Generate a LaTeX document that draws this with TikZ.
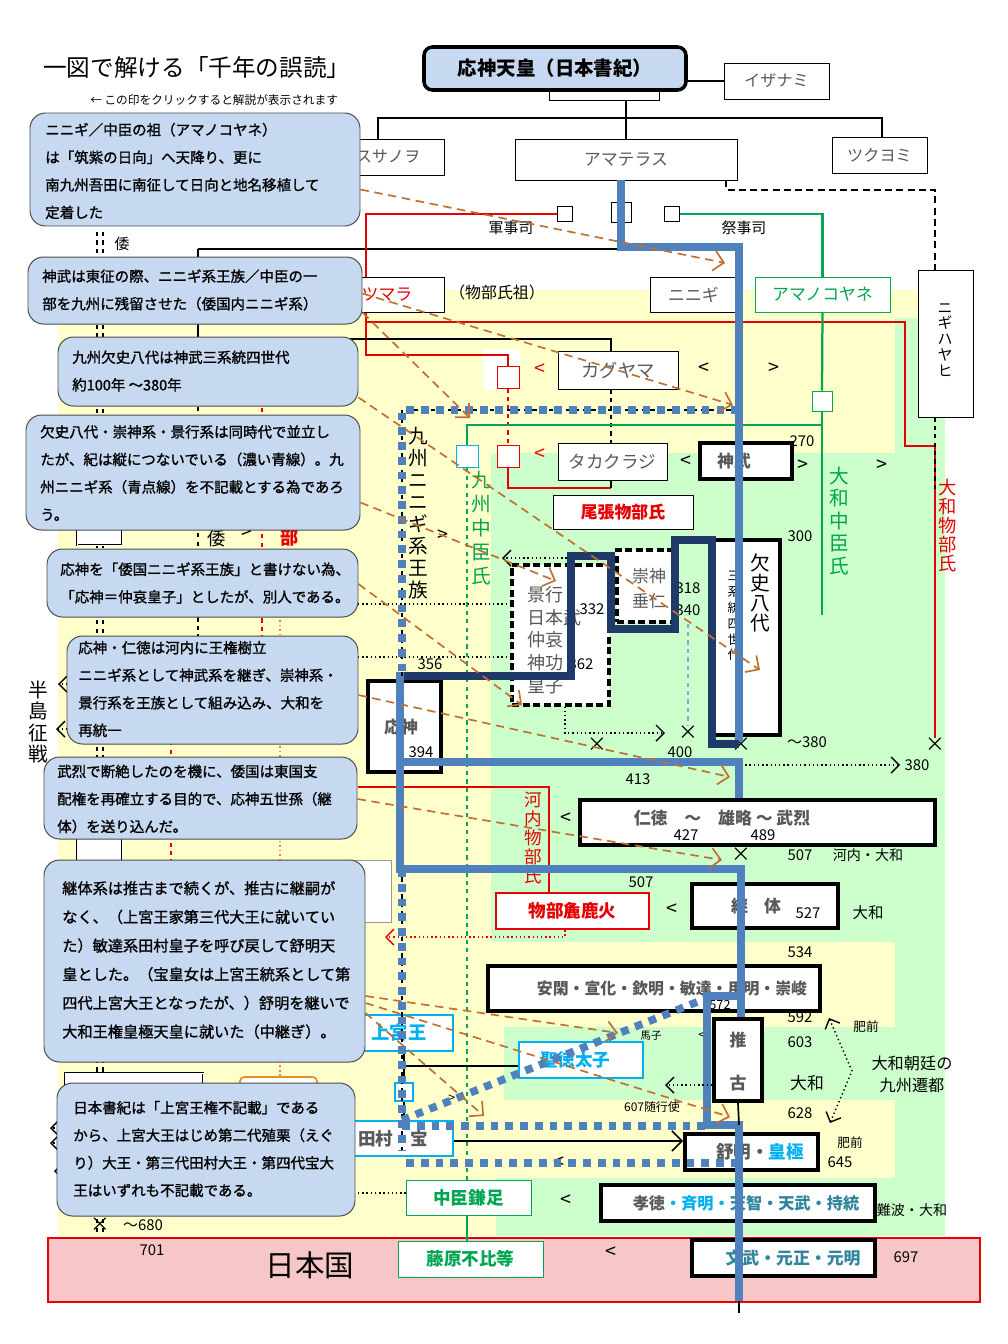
\documentclass[tikz,border=0pt]{standalone}
\usepackage{fontspec}
\setmainfont{Noto Sans CJK JP}
\newfontfamily\callfont[FakeBold=1.2]{Noto Sans CJK JP}
\usetikzlibrary{arrows.meta,fit}
\definecolor{callfill}{RGB}{198,217,241}
\definecolor{ylwbg}{RGB}{255,255,204}
\definecolor{grnbg}{RGB}{204,255,204}
\definecolor{pinkbg}{RGB}{247,199,199}
\definecolor{bluec}{RGB}{79,129,189}
\definecolor{navyc}{RGB}{31,58,104}
\definecolor{redc}{RGB}{230,0,0}
\definecolor{grnc}{RGB}{0,166,81}
\definecolor{cyanc}{RGB}{0,176,240}
\definecolor{tealc}{RGB}{49,133,156}
\definecolor{brnc}{RGB}{192,112,48}
\definecolor{txtgray}{RGB}{89,89,89}
\definecolor{orgc}{RGB}{230,140,40}
\newcommand{\fsz}[2]{\fontsize{#1pt}{#2pt}\selectfont}
\pgfdeclarelayer{bg}
\pgfdeclarelayer{wires}
\pgfdeclarelayer{over}
\pgfdeclarelayer{notes}
\pgfsetlayers{bg,wires,main,over,notes}
\tikzset{
  plain/.style={draw=black, fill=white, inner sep=0pt},
  heavy/.style={draw=black, line width=2.6pt, fill=white, inner sep=0pt},
  dashbox/.style={draw=black, line width=2.2pt, dash pattern=on 5pt off 2.5pt, fill=white, inner sep=0pt},
  topbox/.style={draw=black, line width=2.5pt, fill=callfill, rounded corners=6pt, inner sep=0pt},
  callout/.style={draw=black!70, line width=0.7pt, fill=callfill, rounded corners=11pt, inner sep=0pt},
  calltext/.style={anchor=west, align=left, inner sep=0pt, font=\callfont\fsz{10.3}{19.6}},
  sq/.style={draw=black, fill=white, minimum size=0.375cm, inner sep=0pt},
  tx/.style={inner sep=0pt, text=txtgray, font=\fsz{12}{14}},
  num/.style={inner sep=0pt, font=\fsz{10.6}{12}},
  bold/.style={inner sep=0pt, text=txtgray, font=\bfseries\fsz{12}{14}},
  vert/.style={inner sep=0pt, align=center},
  lt/.style={inner sep=0pt, font=\fsz{14}{16}},
  famline/.style={line width=1.8pt},
  redl/.style={draw=redc, line width=1.8pt},
  grnl/.style={draw=grnc, line width=1.6pt},
  bluel/.style={draw=bluec, line width=5pt},
  navyl/.style={draw=navyc, line width=5pt},
  bluedot/.style={draw=bluec, line width=5.5pt, dash pattern=on 5.5pt off 5pt},
  dotarr/.style={dotted, line width=1pt, -{Straight Barb[length=2mm]}},
  brnarr/.style={draw=brnc, line width=1.2pt, dash pattern=on 6pt off 4pt, -{Straight Barb[length=2.5mm]}},
}
\begin{document}
\begin{tikzpicture}[x=0.025cm,y=-0.025cm]
\useasboundingbox (0,0) rectangle (1008,1344);
% 背景
\begin{pgfonlayer}{bg}
\fill[ylwbg] (58,290) rectangle (945,1236);
\fill[grnbg] (895,318) rectangle (945,1236);
\fill[grnbg] (491,453) rectangle (945,942);
\fill[grnbg] (504,1027) rectangle (945,1100);
\fill[grnbg] (496,1178) rectangle (945,1236);
\fill[white] (483,349) rectangle (520,390);
\draw[redc, line width=1.5pt, fill=pinkbg] (48,1238) rectangle (980,1302);
\end{pgfonlayer}

% タイトル
\node[anchor=west, inner sep=0pt, font=\fsz{16.8}{18}] (title) at (43,68) {一図で解ける「千年の誤読」};
\node[anchor=west, inner sep=0pt, font=\fsz{8.3}{9}] (hint) at (90,100) {← この印をクリックすると解説が表示されます};

% 神々
\node[plain, fit={(549,90)(659,100)}] (stub) {};
\node[topbox, fit={(424,47)(686,90)}] (ojin) {};
\node[inner sep=0pt, font=\bfseries\fsz{13.8}{15}] (ojint) at (ojin) {応神天皇（日本書紀）};
\node[plain, fit={(724,63)(829,99)}] (izanami) {};
\node[tx, font=\fsz{11.5}{13}] (izanamit) at (izanami) {イザナミ};
\node[plain, fit={(332,139)(444,175)}] (susanoo) {};
\node[tx, font=\fsz{11.5}{13}] (susanoot) at (susanoo) {スサノヲ};
\node[plain, fit={(515,139)(737,180)}] (amaterasu) {};
\node[tx] (amaterasut) at (amaterasu) {アマテラス};
\node[plain, fit={(832,137)(927,173)}] (tsukuyomi) {};
\node[tx, font=\fsz{11.5}{13}] (tsukuyomit) at (tsukuyomi) {ツクヨミ};
\node[plain, fit={(918,270)(973,417)}] (nigihayahi) {};
\node[vert, font=\fsz{10.6}{11.3}] (nigihayahit) at (945,340) {ニ\\ギ\\ハ\\ヤ\\ヒ};
\node[sq] (sqa) at (565,214) {};
\node[sq, minimum size=0.5cm] (sqb) at (621,212) {};
\node[sq] (sqc) at (672,214) {};
\node[num] (gunji) at (511,228) {軍事司};
\node[num] (saiji) at (744,228) {祭事司};
\node[num] (wa1) at (122,244) {倭};
\coordinate (fork) at (626,118);
\coordinate (sl) at (378,118);
\coordinate (tr) at (882,118);
\coordinate (db) at (726,190);
\coordinate (dc) at (935,190);

% 九州
\node[plain, fit={(330,277)(444,312)}] (tsumara) {};
\node[tx, text=redc] (tsumarat) at (tsumara) {ツマラ};
\node[num, font=\fsz{11.3}{13}] (sosen) at (497,292) {（物部氏祖）};
\node[plain, fit={(650,277)(737,312)}] (ninigi) {};
\node[tx] (ninigit) at (ninigi) {ニニギ};
\node[plain, draw=grnc, fit={(755,277)(890,312)}] (amanokoyane) {};
\node[tx, text=grnc] (amanokoyanet) at (amanokoyane) {アマノコヤネ};
\node[sq, draw=redc, minimum size=0.55cm] (rsq1) at (508,377) {};
\node[sq, draw=redc, minimum size=0.55cm] (rsq2) at (508,456) {};
\node[sq, draw=cyanc, minimum size=0.55cm] (csq) at (467,456) {};
\node[sq, draw=grnc, minimum size=0.5cm] (gsq) at (822,401) {};
\node[lt, text=redc] (rlt1) at (540,370) {<};
\node[lt, text=redc] (rlt2) at (540,455) {<};
\node[plain, fit={(558,351)(678,389)}] (kaguyama) {};
\node[tx, font=\fsz{13}{15}] (kaguyamat) at (kaguyama) {カグヤマ};
\node[lt] (klt) at (704,369) {<};
\node[lt] (kgt) at (774,369) {>};
\node[plain, fit={(558,443)(667,480)}] (takakuraji) {};
\node[tx, font=\fsz{12.5}{15}] (takakurajit) at (takakuraji) {タカクラジ};
\node[lt] (jlt) at (686,462) {<};
\node[heavy, fit={(700,443)(792,479)}] (jinmu) {};
\node[bold] (jinmut) at (734,461) {神武};
\node[lt] (jgt1) at (803,466) {>};
\node[lt] (jgt2) at (882,466) {>};
\node[num] (n270) at (802,441) {270};
\node[num] (n300) at (800,536) {300};
\node[plain, fit={(553,495)(693,529)}] (owari) {};
\node[inner sep=0pt, text=redc, font=\bfseries\fsz{12}{14}] (owarit) at (owari) {尾張物部氏};
\node[vert, font=\fsz{14}{15.6}] (kyuninigi) at (418,513) {九\\州\\ニ\\ニ\\ギ\\系\\王\\族};
\node[lt] (kgt3) at (443,536) {>};
\node[vert, text=grnc, font=\fsz{14}{17}] (kyunakatomi) at (481,528) {九\\州\\中\\臣\\氏};
\node[vert, text=grnc, font=\fsz{14}{16}] (yanakatomi) at (839,521) {大\\和\\中\\臣\\氏};
\node[vert, text=redc, font=\fsz{13}{13.5}] (yamono) at (948,526) {大\\和\\物\\部\\氏};

% 崇神・景行・欠史八代
\node[dashbox, fit={(512,565)(609,705)}] (keiko) {};
\node[anchor=west, align=left, inner sep=0pt, text=txtgray, font=\fsz{12.8}{16.2}] (keikot) at (527,640) {景行\\日本武\\仲哀\\神功\\皇子};
\node[num] (n332) at (592,609) {332};
\node[num] (n362) at (581,664) {362};
\node[dashbox, fit={(617,550)(673,622)}] (sujin) {};
\node[align=center, inner sep=0pt, text=txtgray, font=\fsz{12}{17.7}] (sujint) at (649,589) {崇神\\垂仁};
\node[num] (n318) at (688,588) {318};
\node[num] (n340) at (688,610) {340};
\node[heavy, line width=3pt, fit={(712,540)(780,735)}] (kesshi) {};
\node[vert, font=\fsz{14}{14.2}] (kesshit) at (760,593) {欠\\史\\八\\代};
\node[vert, font=\fsz{9}{11.3}] (kesshis) at (734,616) {三\\系\\統\\四\\世\\代};
\node[num] (n356) at (430,664) {356};
\node[heavy, fit={(368,681)(441,772)}] (ojinb) {};
\node[bold] (ojinbt) at (401,727) {応神};
\node[num] (n394) at (421,752) {394};
\node[lt] (xa) at (597,745) {×};
\node[lt] (xb) at (688,733) {×};
\node[lt] (xk) at (741,745) {×};
\node[lt] (xm4) at (935,745) {×};
\node[num] (n400) at (680,752) {400};
\node[num] (n380a) at (807,742) {〜380};
\node[num] (n380) at (917,765) {380};
\node[num] (n413) at (638,779) {413};

% 河内
\node[heavy, fit={(580,800)(935,845)}] (nintoku) {};
\node[bold] (nintokut) at (722,818) {仁徳\quad 〜\quad 雄略 〜 武烈};
\node[num] (n427) at (686,835) {427};
\node[num] (n489) at (763,835) {489};
\node[lt] (nlt) at (566,819) {<};
\node[vert, text=redc, font=\fsz{12.5}{13.5}] (kawamono) at (533,838) {河\\内\\物\\部\\氏};
\node[lt] (xk2) at (741,855) {×};
\node[num] (n507a) at (800,855) {507};
\node[num, font=\fsz{10}{12}] (kawayama) at (868,855) {河内・大和};
\node[num] (n507b) at (641,882) {507};
\node[plain, draw=redc, line width=1.6pt, fit={(496,893)(649,929)}] (arakabi) {};
\node[inner sep=0pt, text=redc, font=\bfseries\fsz{12.5}{14}] (arakabit) at (arakabi) {物部麁鹿火};
\node[lt] (klt2) at (672,910) {<};
\node[heavy, fit={(692,884)(838,928)}] (keitai) {};
\node[bold] (keitait) at (756,906) {継\hspace{0.4cm}体};
\node[num] (n527) at (808,913) {527};
\node[num, font=\fsz{11}{12}] (yamato1) at (868,913) {大和};
\node[num] (n534) at (800,952) {534};
\node[heavy, fit={(488,966)(820,1011)}] (ankan) {};
\node[bold, font=\bfseries\fsz{11.3}{13}] (ankant) at (672,988) {安閑・宣化・欽明・敏達・用明・崇峻};
\node[num, font=\fsz{9}{10}] (n572) at (720,1005) {572};

% 推古〜
\node[num] (n592) at (800,1017) {592};
\node[num] (n603) at (800,1042) {603};
\node[num, font=\fsz{12}{14}] (yamato2) at (807,1083) {大和};
\node[num] (n628) at (800,1113) {628};
\node[num] (n645) at (840,1162) {645};
\node[num, font=\fsz{9}{10}] (hizen1) at (866,1027) {肥前};
\node[num, font=\fsz{9}{10}] (hizen2) at (850,1143) {肥前};
\node[align=center, inner sep=0pt, font=\fsz{11.5}{15.5}] (sento) at (912,1074) {大和朝廷の\\九州遷都};
\node[plain, draw=cyanc, line width=2pt, fit={(345,1015)(453,1051)}] (jyogu) {};
\node[inner sep=0pt, text=cyanc, font=\bfseries\fsz{13}{15}] (jyogut) at (jyogu) {上宮王};
\node[plain, draw=cyanc, line width=2pt, fit={(519,1042)(643,1078)}] (shotoku) {};
\node[inner sep=0pt, text=cyanc, font=\bfseries\fsz{12.5}{15}] (shotokut) at ([xshift=-4pt]shotoku.center) {聖徳太子};
\node[sq, draw=cyanc, line width=2pt, minimum size=0.45cm] (csq2) at (404,1092) {};
\node[num, font=\fsz{7.5}{9}] (umako) at (651,1036) {馬子};
\node[num, font=\fsz{9}{10}] (ult) at (702,1036) {<};
\node[num, font=\fsz{8.5}{10}] (zuiko) at (652,1107) {607随行使};
\node[num, font=\fsz{9}{10}] (tgt) at (452,1099) {>};
\node[plain, draw=cyanc, line width=2pt, fit={(345,1121)(453,1156)}] (tamura) {};
\node[bold, font=\bfseries\fsz{12.5}{15}] (tamurat) at ([xshift=-4pt]tamura.center) {田村・宝};
\node[heavy, fit={(685,1134)(818,1170)}] (jomei) {};
\node[bold, font=\bfseries\fsz{12.5}{14}] (jomeit) at (760,1152) {舒明・\textcolor{cyanc}{皇極}};
\node[lt] (tlt) at (559,1163) {<};
\node[plain, draw=grnc, fit={(406,1180)(531,1215)}] (kamatari) {};
\node[inner sep=0pt, text=grnc, font=\bfseries\fsz{12.5}{15}] (kamatarit) at (kamatari) {中臣鎌足};
\node[lt] (klt3) at (566,1201) {<};
\node[heavy, fit={(601,1185)(875,1221)}] (kotoku) {};
\node[bold, font=\bfseries\fsz{11.5}{13}] (kotokut) at (746,1203) {孝徳\textcolor{cyanc}{・斉明・}\textcolor{tealc}{天智・天武・持統}};
\node[num, font=\fsz{10}{12}] (naniwa) at (912,1210) {難波・大和};

% 日本国
\node[inner sep=0pt, font=\fsz{21}{24}] (nihon) at (310,1265) {日本国};
\node[lt] (xz) at (100,1225) {×};
\node[num] (n680) at (143,1225) {〜680};
\node[num] (n701) at (152,1250) {701};
\node[plain, draw=grnc, fit={(398,1241)(543,1277)}] (fuhito) {};
\node[inner sep=0pt, text=grnc, font=\bfseries\fsz{12.5}{15}] (fuhitot) at (fuhito) {藤原不比等};
\node[lt] (flt) at (611,1253) {<};
\node[heavy, fit={(692,1240)(875,1276)}] (monmu) {};
\node[bold, text=tealc, font=\bfseries\fsz{12}{14}] (monmut) at (793,1258) {文武・元正・元明};
\node[num] (n697) at (906,1257) {697};

% 左の隠れた系統
\node[inner sep=0pt, font=\fsz{13}{14}] (wa2) at (217,539) {倭};
\node[lt] (wgt) at (247,533) {>};
\node[inner sep=0pt, text=redc, font=\bfseries\fsz{13}{14}] (be) at (290,538) {部};
\node[vert, font=\fsz{14}{15}] (hanto) at (38,722) {半\\島\\征\\戦};

% 線
\begin{pgfonlayer}{wires}
\draw[line width=1.6pt, dashed] (97,232) -- (97,1232);
\draw[line width=1.6pt, dashed] (103,232) -- (103,1232);
\coordinate (wl) at (198,249);
\coordinate (wr) at (739,249);
\coordinate (kb) at (198,339);
\coordinate (kbe) at (198,640);
\draw[famline] (wl) -- (wr);
\draw[famline] (wl) -- (kb);
\draw[line width=1.6pt, dashed] (kb) -- (kbe);
\draw[redl, dashed] (262,340) -- (262,640);
\draw[redl, dashed] (171,640) -- (171,860);
\draw[orgc, line width=1.2pt, dotted] (280,620) -- (280,1078);
\draw[double, fill=white] (77,523) rectangle (122,545);
\draw[double, fill=white] (77,838) rectangle (122,862);
\draw[double, fill=white] (65,1073) rectangle (203,1087);
\draw[orgc, fill=white, rounded corners=3pt, line width=1.2pt] (240,1077) rectangle (317,1092);
\draw[black!40, fill=white] (330,860) rectangle (391,922);
\draw[dotarr] (80,684) -- (58,684);
\draw[dotarr] (80,729) -- (56,729);
\draw[dotarr] (80,1128) -- (50,1128);
\draw[dotarr] (80,1143) -- (50,1143);
\draw[dotarr] (80,1171) -- (54,1171);
% 神々の線
\draw[famline] (ojin.east |- izanami.west) -- (izanami.west);
\draw[famline] (stub.south -| amaterasu.north) -- (amaterasu.north);
\draw[famline] (susanoo.north -| sl) |- (fork) -| (tsukuyomi.north -| tr);
\draw[famline, dash pattern=on 5pt off 3pt] (amaterasu.south -| db) -- (db) -- (dc) -- (nigihayahi.north -| dc);
% 物部
\coordinate (ra) at (366,355);
\coordinate (rb) at (366,322);
\coordinate (rc) at (905,322);
\coordinate (rd) at (935,446);
\coordinate (owj) at (611,488);
\coordinate (nhd) at (935,490);
\draw[redl] (sqa.west) -| (ra) -| (rsq1.north);
\draw[redl] (rb) -- (rc) |- (rd) -- (xm4.north);
\draw[redl, dashed] (rsq1.south) -- (rsq2.north);
\draw[redl] (rsq2.south) |- (owj);
\draw[famline] (takakuraji.south -| owj) -- (owj);
\draw[famline] (kb) -| (kaguyama.north -| owj);
\draw[famline, dashed] (kaguyama.south -| owj) -- (takakuraji.north -| owj);
\draw[line width=1.4pt, dashed] (nigihayahi.south -| rd) -- (nhd);
\coordinate (kr1) at (358,787);
\coordinate (kr2) at (549,787);
\draw[redl] (kr1) -- (kr2) -- (arakabi.north -| kr2);
% 中臣
\coordinate (ge) at (822,615);
\coordinate (gh) at (822,425);
\draw[grnl] (sqc.east) -| (amanokoyane.north);
\draw[grnl] (amanokoyane.south) -- (gsq.north);
\draw[grnl] (gsq.south) -- (ge);
\draw[grnl] (gh) -| (csq.north);
\draw[grnl, dashed] (csq.south) -- (kamatari.north -| csq.south);
\draw[grnl] (kamatari.south -| csq.south) -- (fuhito.north -| csq.south);
% 点線矢印
\coordinate (p1) at (571,558);
\coordinate (p1e) at (502,558);
\coordinate (p2) at (358,604);
\coordinate (p3) at (358,657);
\coordinate (p4) at (665,733);
\coordinate (p5) at (741,765);
\coordinate (p6) at (385,937);
\coordinate (p7) at (665,1085);
\coordinate (p8) at (358,1193);
\coordinate (q1) at (565,0);
\coordinate (h1) at (829,1018);
\coordinate (h2) at (852,1071);
\coordinate (h3) at (830,1123);
\coordinate (ky) at (404,1066);
\coordinate (ln) at (0,1141);
\draw[dotarr] (p1) -- (p1e);
\draw[dotted, line width=1pt] (p2) -- (p2 -| keiko.west);
\draw[dotted, line width=1pt] (p3) -- (p3 -| keiko.west);
\draw[dotarr] (keiko.south -| q1) |- (p4);
\draw[dotarr] (p5) -- ([xshift=-3pt]n380.west);
\draw[dotarr, draw=redc] (arakabi.south -| q1) |- (p6);
\draw[dotted, line width=1pt] (p8) -- (p8 -| kamatari.west);
\draw[dotted, line width=1pt, arrows={Straight Barb[length=2mm]-Straight Barb[length=2mm]}] (h1) -- (h2) -- (h3);
\draw[line width=1.2pt] (jyogu.south -| ky) -- (tamura.north -| ky);
\draw[line width=1.2pt] (ky) -- (ky -| shotoku.west);
\draw[line width=1.2pt, -{Straight Barb[length=2.5mm]}] (ln -| tamura.east) -- (ln -| jomei.west);
\end{pgfonlayer}

% 系統線（青）
\begin{pgfonlayer}{over}
\coordinate (b1) at (739,247);
\coordinate (b2) at (739,742);
\draw[bluel] (amaterasu.south -| sqb) |- (b1) -- (b2);
\coordinate (n1) at (400,676);
\coordinate (n2) at (571,676);
\coordinate (n3) at (611,556);
\coordinate (n4) at (675,629);
\coordinate (n5) at (712,540);
\coordinate (n6) at (739,744);
\draw[navyl] (n1) -- (n2) |- (n3) |- (n4) |- (n5) |- (n6);
\coordinate (l1) at (400,672);
\coordinate (l2) at (400,869);
\coordinate (l3) at (741,869);
\coordinate (l4) at (741,996);
\coordinate (l5) at (707,996);
\coordinate (l6) at (707,1125);
\coordinate (l7) at (739,1125);
\coordinate (l8) at (739,1301);
\coordinate (l9) at (739,1313);
\coordinate (m1) at (400,762);
\coordinate (m2) at (739,762);
\draw[bluel] (l1) -- (l2) -- (l3) -- (l4) -- (l5) -- (l6) -- (l7) -- (l8);
\draw[bluel] (l4) -- (741,1019);
\draw[bluel] (m1) -- (m2) -- (nintoku.north -| m2);
\draw[line width=1.2pt] (l8) -- (l9);
\draw[draw=bluec!70, line width=1.5pt, dashed] (sujin.south -| xb) -- (xb.north);
% 九州ニニギ系（青点線）
\coordinate (d1) at (739,410);
\coordinate (d2) at (402,410);
\coordinate (d3) at (402,676);
\coordinate (d4) at (402,869);
\coordinate (d5) at (402,1150);
\coordinate (d6) at (402,1120);
\coordinate (d7) at (712,996);
\coordinate (d8) at (402,1126);
\coordinate (d9) at (707,1126);
\coordinate (d10) at (406,1163);
\coordinate (d11) at (735,1163);
\draw[line width=1.5pt, dashed] (d1) -- (d2) -- (d3);
\draw[line width=1.5pt, dashed] (d4) -- (d5);
\draw[bluedot] (d1) -- (d2) -- (d3);
\draw[bluedot] (d4) -- (d5);
\draw[bluedot] (d6) -- (d7);
\draw[bluedot] (d8) -- (d9);
\draw[bluedot] (d10) -- (d11);
\node[heavy, fit={(714,1019)(762,1101)}] (suiko) {};
\node[bold] (suiko1) at (738,1040) {推};
\node[bold] (suiko2) at (738,1083) {古};
\draw[line width=1.2pt] (suiko.south) -- (l7);
\draw[dotarr] (p7 -| suiko.west) -- (p7);
\end{pgfonlayer}

% 解説
\begin{pgfonlayer}{notes}
\node[callout, fit={(30,113)(360,226)}] (c1) {};
\node[calltext] (c1t) at (45,171) {ニニギ／中臣の祖（アマノコヤネ）\\は「筑紫の日向」へ天降り、更に\\南九州吾田に南征して日向と地名移植して\\定着した};
\node[callout, fit={(28,257)(362,324)}] (c2) {};
\node[calltext] (c2t) at (42,290) {神武は東征の際、ニニギ系王族／中臣の一\\部を九州に残留させた（倭国内ニニギ系）};
\node[callout, fit={(58,337)(358,406)}] (c3) {};
\node[calltext] (c3t) at (72,371) {九州欠史八代は神武三系統四世代\\約100年 〜380年};
\node[callout, fit={(26,415)(360,530)}] (c4) {};
\node[calltext] (c4t) at (40,473) {欠史八代・崇神系・景行系は同時代で並立し\\たが、紀は縦につないでいる（濃い青線）。九\\州ニニギ系（青点線）を不記載とする為であろ\\う。};
\node[callout, fit={(47,549)(358,617)}] (c5) {};
\node[calltext] (c5t) at (60,583) {応神を「倭国ニニギ系王族」と書けない為、\\「応神＝仲哀皇子」としたが、別人である。};
\node[callout, fit={(67,636)(358,744)}] (c6) {};
\node[calltext] (c6t) at (78,689) {応神・仁徳は河内に王権樹立\\ニニギ系として神武系を継ぎ、崇神系・\\景行系を王族として組み込み、大和を\\再統一};
\node[callout, fit={(44,757)(357,839)}] (c7) {};
\node[calltext] (c7t) at (57,799) {武烈で断絶したのを機に、倭国は東国支\\配権を再確立する目的で、応神五世孫（継\\体）を送り込んだ。};
\node[callout, fit={(44,860)(365,1062)}] (c8) {};
\node[calltext, font=\callfont\fsz{10.8}{20.4}] (c8t) at (62,960) {継体系は推古まで続くが、推古に継嗣が\\なく、（上宮王家第三代大王に就いてい\\た）敏達系田村皇子を呼び戻して舒明天\\皇とした。（宝皇女は上宮王統系として第\\四代上宮大王となったが、）舒明を継いで\\大和王権皇極天皇に就いた（中継ぎ）。};
\node[callout, fit={(57,1083)(355,1216)}] (c9) {};
\node[calltext] (c9t) at (73,1149) {日本書紀は「上宮王権不記載」である\\から、上宮大王はじめ第二代殖栗（えぐ\\り）大王・第三代田村大王・第四代宝大\\王はいずれも不記載である。};
\end{pgfonlayer}

% 解説の矢印
\begin{pgfonlayer}{over}
\coordinate (t1) at (725,263);
\coordinate (t2) at (733,405);
\coordinate (t3) at (470,418);
\coordinate (t4) at (760,670);
\coordinate (t5) at (556,581);
\coordinate (t6) at (522,705);
\coordinate (t8) at (730,777);
\coordinate (t9) at (722,860);
\coordinate (t10) at (618,1033);
\coordinate (t11) at (484,1116);
\coordinate (t12) at (730,1117);
\draw[brnarr] (c1.east) ++(0,20) -- (t1);
\draw[brnarr] (c2.east) ++(0,3) -- (t2);
\draw[brnarr] (c2.east) ++(0,22) -- (t3);
\draw[brnarr] (c3.east) ++(0,26) -- (t4);
\draw[brnarr] (c4.east) ++(0,30) -- (t5);
\draw[brnarr] (c5.east) ++(0,1) -- (t6);
\draw[brnarr] (c6.east) ++(0,5) -- (t8);
\draw[brnarr] (c7.east) ++(0,1) -- (t9);
\draw[brnarr] (c8.east) ++(0,35) -- (t10);
\draw[brnarr] (c8.east) ++(0,52) -- (t11);
\draw[brnarr] (c8.east) ++(0,42) -- (t12);
\end{pgfonlayer}
\end{tikzpicture}
\end{document}
